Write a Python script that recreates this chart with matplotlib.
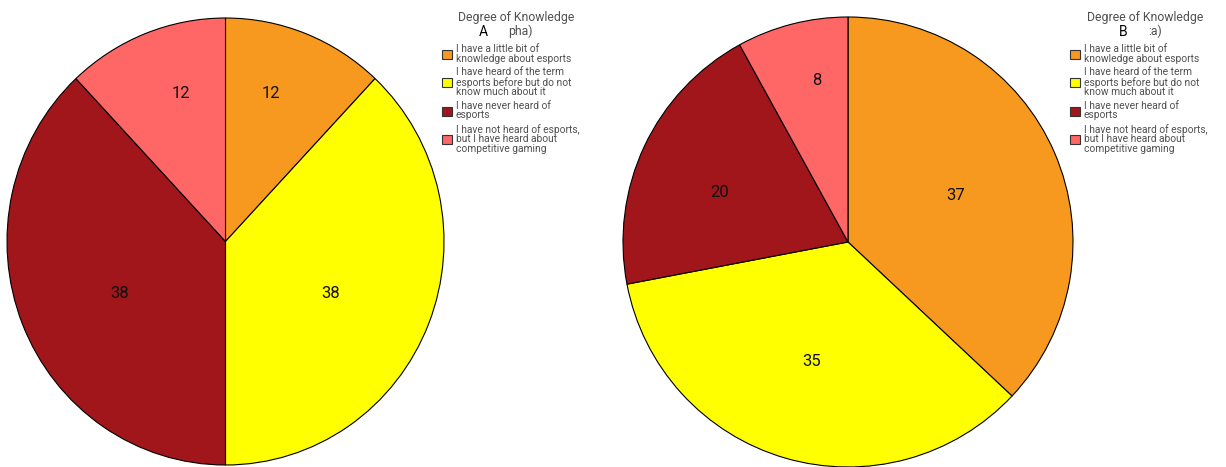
import matplotlib
matplotlib.use("Agg")
import matplotlib.pyplot as plt
import numpy as np

plt.rcParams['font.family'] = ['Roboto', 'DejaVu Sans']

categories = ["I have a little bit of\nknowledge about esports",
              "I have heard of the term\nesports before but do not\nknow much about it",
              "I have never heard of\nesports",
              "I have not heard of esports,\nbut I have heard about\ncompetitive gaming"]
values_a = [12, 38, 38, 12]
values_b = [37, 35, 20, 8]
colors = ["#F7991F", "#FFFF00", "#A0161A", "#FF6666"]
legend_title = "Degree of Knowledge"
# label placement (radius fraction, angular fraction within slice)
label_dist_a = [0.70, 0.532, 0.532, 0.70]
label_frac_a = [0.40, 0.524, 0.476, 0.61]
label_dist_b = [0.525, 0.548, 0.612, 0.737]
label_frac_b = [0.496, 0.506, 0.451, 0.625]

W, H = 1226, 467
fig = plt.figure(figsize=(W/100, H/100), dpi=100)

def draw(ax, vals, dists, fracs):
    wedges, _ = ax.pie(vals, colors=colors, startangle=90, counterclock=False,
                       wedgeprops=dict(edgecolor='black', linewidth=0.8))
    total = sum(vals)
    cum = 0
    for v, d, f in zip(vals, dists, fracs):
        mid = 90 - 360 * (cum + v * f) / total
        cum += v
        t = np.deg2rad(mid)
        ax.annotate(str(v), (d*np.cos(t), d*np.sin(t)), xytext=(0, -4.3),
                    textcoords='offset points', ha='center', va='baseline',
                    fontsize=12, color='#111111')
    ax.set_xlim(-1, 1); ax.set_ylim(-1, 1)
    ax.set_aspect('auto')
    return wedges

# pie A box (slightly elliptical as in reference)
axa = fig.add_axes([7/W, (H-465)/H, 437/W, 447/H])
wa = draw(axa, values_a, label_dist_a, label_frac_a)
axb = fig.add_axes([623/W, (H-467)/H, 450/W, 450/H])
wb = draw(axb, values_b, label_dist_b, label_frac_b)

def legend(wedges, x, tx, letter, lx, rest, rx):
    leg = fig.legend(wedges, categories, loc='upper left', bbox_to_anchor=(x/W, 1 - 44/H),
                     frameon=False, fontsize=7.4,
                     handlelength=0.95, handleheight=0.95, handletextpad=0.4,
                     labelspacing=0.32, borderpad=0, borderaxespad=0)
    for t in leg.get_texts():
        t.set_color('#505050'); t.set_linespacing(0.97)
    for h in leg.legend_handles:
        h.set_edgecolor('#333333'); h.set_linewidth(0.8)
    fig.text(tx/W, 1 - 17/H, legend_title, ha='center', va='center', fontsize=8.8,
             color='#505050')
    fig.text(lx/W, 1 - 32/H, letter, ha='center', va='center', fontsize=10,
             color='black')
    fig.text(rx/W, 1 - 31/H, rest, ha='right', va='center', fontsize=8.8,
             color='#505050')

legend(wa, 442, 516, "A", 483, "pha)", 533)
legend(wb, 1070, 1145, "B", 1123, ":a)", 1162)

fig.savefig("out.png", dpi=100)
